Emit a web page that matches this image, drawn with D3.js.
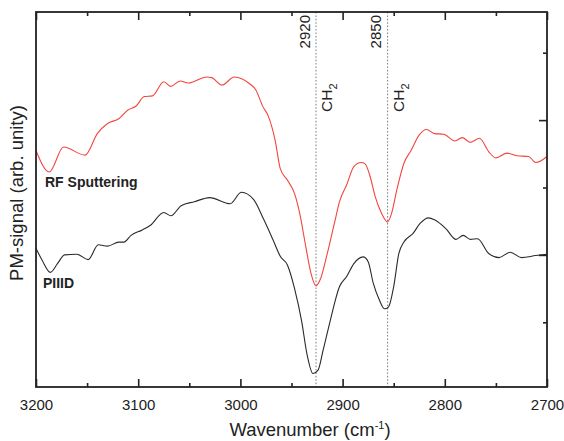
<!DOCTYPE html>
<html>
<head>
<meta charset="utf-8">
<script src="https://cdn.jsdelivr.net/npm/d3@7"></script>
<style>
  html, body { margin: 0; padding: 0; background: #fff; }
  svg { display: block; }
  text { font-family: "Liberation Sans", Arial, sans-serif; fill: #222; }
</style>
</head>
<body>
<svg id="chart" width="564" height="441"></svg>
<script>
// ---- data ----
const rfWavenumber = [3200,3187,3173,3152,3140,3130,3119,3110,3102,3094,3086,3075,3068,3059,3051,3033,3028,3018,3006,2991,2985,2978,2973,2966,2961,2954,2947,2942,2936,2931,2926,2922,2915,2908,2903,2896,2889,2882,2878,2873,2868,2862,2856,2852,2847,2840,2833,2825,2818,2810,2801,2790,2783,2775,2766,2757,2750,2739,2729,2718,2711,2700];
const rfSignal = [0.355,0.323,0.360,0.348,0.380,0.395,0.402,0.415,0.421,0.435,0.436,0.457,0.450,0.458,0.455,0.464,0.463,0.452,0.464,0.454,0.445,0.420,0.407,0.370,0.328,0.311,0.291,0.262,0.212,0.173,0.154,0.163,0.202,0.247,0.279,0.304,0.331,0.337,0.335,0.316,0.286,0.262,0.249,0.262,0.296,0.336,0.355,0.378,0.386,0.380,0.379,0.369,0.374,0.367,0.373,0.353,0.344,0.351,0.347,0.346,0.337,0.346];

const piiidWavenumber = [3200,3194,3186,3179,3172,3160,3149,3139,3130,3119,3114,3107,3096,3088,3075,3068,3058,3045,3030,3010,2999,2987,2977,2968,2961,2954,2947,2940,2935,2929,2924,2919,2912,2903,2896,2889,2880,2875,2870,2864,2859,2855,2850,2845,2840,2831,2824,2816,2810,2799,2789,2782,2775,2768,2757,2747,2736,2725,2711,2700];
const piiidSignal = [0.210,0.192,0.174,0.187,0.200,0.201,0.193,0.215,0.213,0.219,0.219,0.229,0.237,0.244,0.263,0.258,0.273,0.279,0.285,0.276,0.293,0.282,0.252,0.222,0.198,0.185,0.150,0.101,0.054,0.024,0.029,0.059,0.103,0.153,0.168,0.187,0.197,0.190,0.158,0.133,0.120,0.123,0.153,0.202,0.219,0.232,0.247,0.255,0.252,0.239,0.223,0.229,0.223,0.224,0.202,0.196,0.204,0.196,0.199,0.201];

const xTickValues = [3200,3100,3000,2900,2800,2700];
const xMinorTickValues = [3150,3050,2950,2850,2750];
const yMajorTickValues = [0.2,0.4];
const yMinorTickValues = [0.1,0.3,0.5];
const peakPositions = [2926,2856];
const peakLabels = ["2920","2850"];
const seriesNames = ["RF Sputtering","PIIID"];

// ---- layout ----
const svg = d3.select("#chart");
const m = {left:36, right:547, top:12, bottom:387};
const x = d3.scaleLinear().domain([3200,2700]).range([m.left, m.right]);
const y = d3.scaleLinear().domain([0.004,0.5604]).range([m.bottom, m.top]);
const plotH = m.bottom - m.top, plotW = m.right - m.left;

// clip
svg.append("defs").append("clipPath").attr("id","clip")
  .append("rect").attr("x",m.left).attr("y",m.top).attr("width",plotW).attr("height",plotH);

// dotted peak lines
svg.append("g").selectAll("line").data(peakPositions).join("line")
  .attr("x1",d=>x(d)).attr("x2",d=>x(d))
  .attr("y1",m.top).attr("y2",m.bottom)
  .attr("stroke","#888").attr("stroke-width",1.1).attr("stroke-dasharray","1.6,1.8");

// curves
const line = d3.line().x(d=>x(d[0])).y(d=>y(d[1])).curve(d3.curveMonotoneX);
const rfData = rfWavenumber.map((w,i)=>[w,rfSignal[i]]);
const piData = piiidWavenumber.map((w,i)=>[w,piiidSignal[i]]);
const curves = svg.append("g").attr("clip-path","url(#clip)");
curves.append("path").datum(rfData).attr("d",line)
  .attr("fill","none").attr("stroke","#f2453d").attr("stroke-width",1.1);
curves.append("path").datum(piData).attr("d",line)
  .attr("fill","none").attr("stroke","#2a2a2a").attr("stroke-width",1.1);

// axes
const bottomMajor = d3.axisBottom(x).tickValues(xTickValues).tickSizeInner(-8).tickSizeOuter(0).tickPadding(12).tickFormat(d3.format("d"));
const bottomMinor = d3.axisBottom(x).tickValues(xMinorTickValues).tickSizeInner(-4).tickSizeOuter(0).tickFormat("");
const topMajor = d3.axisTop(x).tickValues(xTickValues).tickSizeInner(-8).tickSizeOuter(0).tickFormat("");
const topMinor = d3.axisTop(x).tickValues(xMinorTickValues).tickSizeInner(-4).tickSizeOuter(0).tickFormat("");
const rightMajor = d3.axisRight(y).tickValues(yMajorTickValues).tickSizeInner(-8).tickSizeOuter(0).tickFormat("");
const rightMinor = d3.axisRight(y).tickValues(yMinorTickValues).tickSizeInner(-4).tickSizeOuter(0).tickFormat("");

function styleAxis(g){
  g.select(".domain").remove();
  g.selectAll(".tick line").attr("stroke","#222").attr("stroke-width",1.6);
  g.selectAll(".tick text").attr("fill","#222").style("font-size","15px").style("font-family","'Liberation Sans', Arial, sans-serif");
}
svg.append("g").attr("transform",`translate(0,${m.bottom})`).call(bottomMajor).call(styleAxis);
svg.append("g").attr("transform",`translate(0,${m.bottom})`).call(bottomMinor).call(styleAxis);
svg.append("g").attr("transform",`translate(0,${m.top})`).call(topMajor).call(styleAxis);
svg.append("g").attr("transform",`translate(0,${m.top})`).call(topMinor).call(styleAxis);
svg.append("g").attr("transform",`translate(${m.right},0)`).call(rightMajor).call(styleAxis);
svg.append("g").attr("transform",`translate(${m.right},0)`).call(rightMinor).call(styleAxis);

// frame
svg.append("rect").attr("x",m.left).attr("y",m.top).attr("width",plotW).attr("height",plotH)
  .attr("fill","none").attr("stroke","#222").attr("stroke-width",1.8);

// peak labels
peakPositions.forEach((p,i)=>{
  svg.append("text")
    .attr("transform",`translate(${x(p)-6.5},${m.top+3}) rotate(-90)`)
    .attr("text-anchor","end").style("font-size","15px").text(peakLabels[i]);
  const t = svg.append("text")
    .attr("transform",`translate(${x(p)+16},112) rotate(-90)`)
    .attr("text-anchor","start").style("font-size","15.5px");
  t.append("tspan").text("CH");
  t.append("tspan").attr("dy",5).style("font-size","11px").text("2");
});

// series labels
svg.append("text").attr("x",45).attr("y",187).style("font-size","14px").style("font-weight","bold").text(seriesNames[0]);
svg.append("text").attr("x",43).attr("y",288).style("font-size","14px").style("font-weight","bold").text(seriesNames[1]);

// axis titles
const xt = svg.append("text").attr("x",310).attr("y",436).attr("text-anchor","middle").style("font-size","18.5px");
xt.append("tspan").text("Wavenumber (cm");
xt.append("tspan").attr("dy",-7).style("font-size","11px").text("-1");
xt.append("tspan").attr("dy",7).text(")");

svg.append("text").attr("transform",`translate(23,193) rotate(-90)`).attr("text-anchor","middle")
  .style("font-size","18.5px").text("PM-signal (arb. unity)");
</script>
</body>
</html>
